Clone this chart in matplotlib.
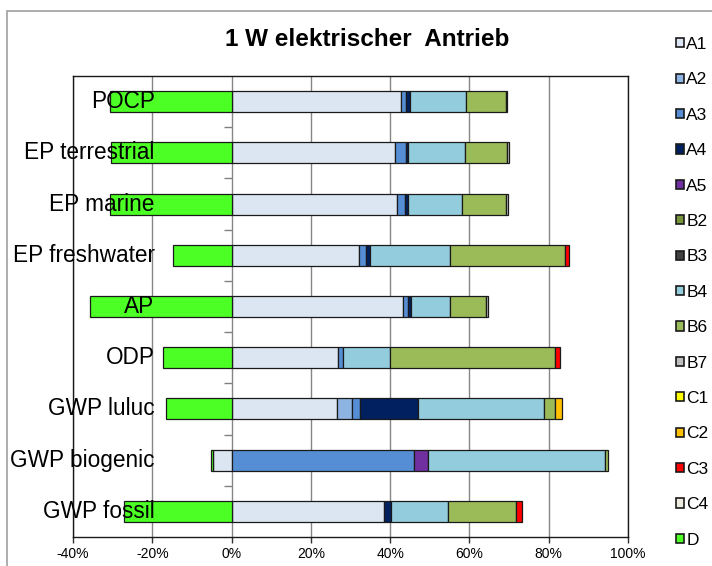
import numpy as np
import matplotlib
matplotlib.use('Agg')
import matplotlib.pyplot as plt
from matplotlib.patches import Rectangle, Patch

plt.rcParams['font.family'] = 'Liberation Sans'

# Categories, bottom to top
categories = ['GWP fossil', 'GWP biogenic', 'GWP luluc', 'ODP', 'AP',
              'EP freshwater', 'EP marine', 'EP terrestrial', 'POCP']

# Shares in % per life cycle module (same order as categories)
A1 = [38.5, -4.7, 26.6, 26.8, 43.3, 32.2, 41.8, 41.2, 42.7]
A2 = [0, 0, 3.7, 0, 0, 0, 0, 0, 0]
A3 = [0, 46.0, 2.0, 1.4, 1.3, 1.7, 1.9, 2.7, 1.4]
A4 = [1.6, 0, 14.8, 0, 0.7, 1.0, 0.7, 0.7, 0.8]
A5 = [0, 3.6, 0, 0, 0, 0, 0, 0, 0]
B2 = [0, 0, 0, 0, 0, 0, 0, 0, 0]
B3 = [0, 0, 0, 0, 0, 0, 0, 0, 0]
B4 = [14.6, 44.6, 31.7, 11.8, 9.8, 20.1, 13.7, 14.3, 14.3]
B6 = [17.1, 0.8, 2.7, 41.7, 9.2, 29.2, 11.2, 10.6, 10.0]
B7 = [0, 0, 0, 0, 0.4, 0, 0.4, 0.4, 0.4]
C1 = [0, 0, 0, 0, 0, 0, 0, 0, 0]
C2 = [0, 0, 1.8, 0, 0, 0, 0, 0, 0]
C3 = [1.4, 0, 0, 1.1, 0, 1.0, 0, 0, 0]
C4 = [0, 0, 0, 0, 0, 0, 0, 0, 0]
D = [-27.1, -0.6, -16.6, -17.4, -35.6, -14.9, -30.7, -30.3, -30.7]

series = [('A1', A1, '#dce6f2'), ('A2', A2, '#8db4e2'), ('A3', A3, '#558ed5'),
          ('A4', A4, '#002060'), ('A5', A5, '#7030a0'), ('B2', B2, '#77933c'),
          ('B3', B3, '#404040'), ('B4', B4, '#93cddd'), ('B6', B6, '#9bbb59'),
          ('B7', B7, '#bfbfbf'), ('C1', C1, '#ffff00'), ('C2', C2, '#ffc000'),
          ('C3', C3, '#ff0000'), ('C4', C4, '#eeece1'), ('D', D, '#4cff24')]

xticks = [-40, -20, 0, 20, 40, 60, 80, 100]

fig = plt.figure(figsize=(7.12, 5.66), dpi=100)
ax = fig.add_axes([73/712, 1-537/566, (628-73)/712, (537-76)/566])

y = np.arange(len(categories))
pos = np.zeros(len(categories))
neg = np.zeros(len(categories))
handles = []
for name, vals, color in series:
    v = np.array(vals, dtype=float)
    left = np.where(v >= 0, pos, neg)
    lw = [0.9 if val != 0 else 0 for val in v]
    ax.barh(y, v, left=left, height=0.41, color=color, edgecolor='#1a1a1a',
            linewidth=lw, zorder=2)
    handles.append(Patch(facecolor=color, edgecolor='#1a1a1a', linewidth=1.2, label=name))
    pos = pos + np.where(v > 0, v, 0)
    neg = neg + np.where(v < 0, v, 0)

# category labels, overlapping the bars like in the original
for i, cat in enumerate(categories):
    ax.text(-19.4, i, cat, ha='right', va='center', fontsize=16.3, zorder=5)

# tick marks between categories on the 0 % line
ax.plot(np.zeros(len(categories) - 1), y[:-1] + 0.5, linestyle='none',
        marker=0, markersize=6, color='#808080', markeredgewidth=1, zorder=1)

ax.set_xlim(-40, 100)
ax.set_ylim(-0.5, len(categories) - 0.5)
ax.set_xticks(xticks)
ax.set_xticklabels([f'{t}%' for t in xticks])
ax.set_yticks([])
ax.tick_params(axis='x', labelsize=10, length=4, width=1, pad=3, color='#333333')
ax.grid(True, axis='x', color='#868686', linewidth=1)
ax.set_axisbelow(True)
for s in ax.spines.values():
    s.set_color('#1a1a1a')
    s.set_linewidth(1)

fig.text(367/712, 1-40/566, '1 W elektrischer  Antrieb', ha='center', va='center',
         fontsize=17.5, fontweight='bold')

ax.legend(handles=handles, loc='upper left', bbox_to_anchor=(676/712, 1-37/566),
          bbox_transform=fig.transFigure, frameon=False, fontsize=12.5,
          handlelength=0.45, handleheight=0.45, handletextpad=0.15,
          labelspacing=1.175, borderaxespad=0, borderpad=0)

fig.add_artist(Rectangle((7/712, -0.1), 1.2, 1.1 - 11/566, transform=fig.transFigure,
                         fill=False, edgecolor='#a0a0a0', linewidth=1.2))

plt.savefig('out.png', dpi=100)
